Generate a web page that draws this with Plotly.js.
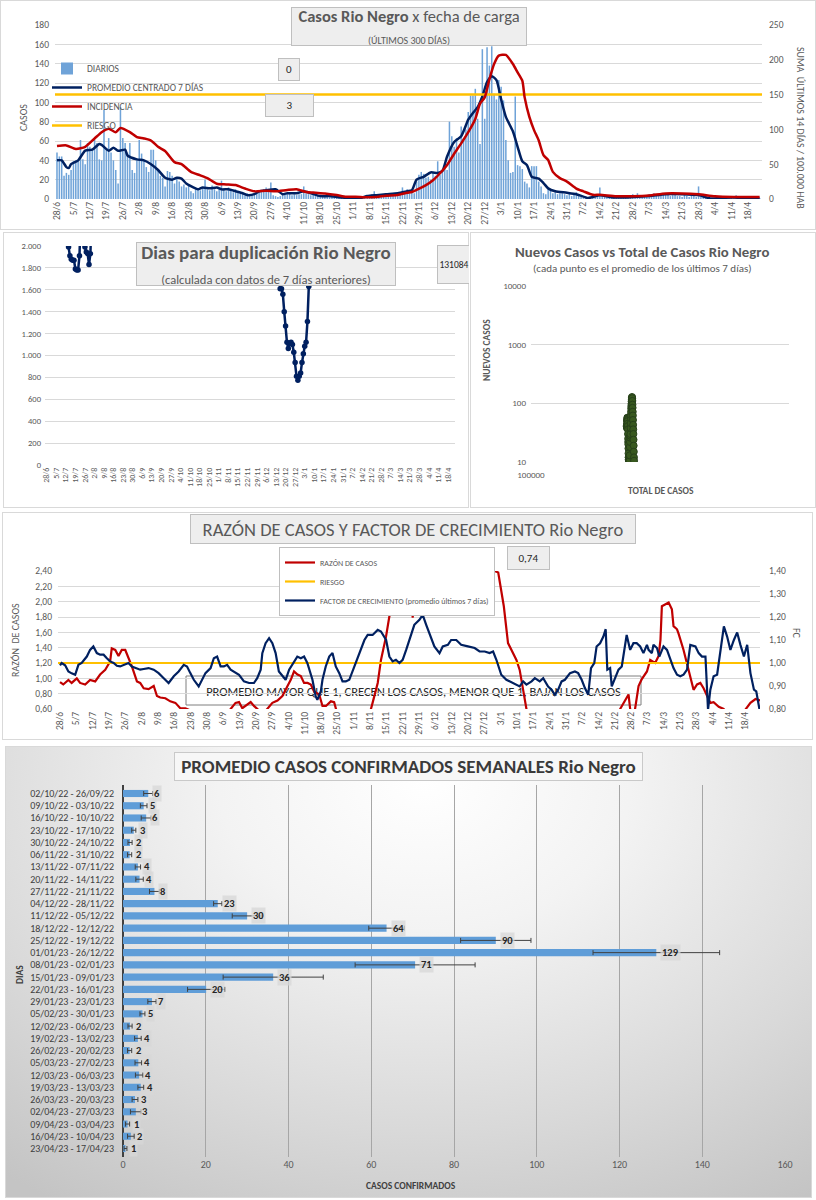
<!DOCTYPE html>
<html><head><meta charset="utf-8">
<script src="https://cdn.plot.ly/plotly-3.0.1.min.js"></script>
<style>
body{margin:0;width:816px;height:1200px;background:#fff;position:relative;overflow:hidden;font-family:Lato,sans-serif}
.p{position:absolute;overflow:hidden;background:#fff;outline:1px solid #d9d9d9;outline-offset:-1px}
</style></head><body>
<div id="c1" class="p" style="left:0;top:0;width:816px;height:230px"></div>
<div id="c2" class="p" style="left:3px;top:232px;width:466px;height:276px"></div>
<div id="c3" class="p" style="left:470px;top:232px;width:346px;height:276px"></div>
<div id="c4" class="p" style="left:2px;top:512px;width:811px;height:228px"></div>
<div id="c5" class="p" style="left:5px;top:746px;width:807px;height:452px;background:radial-gradient(ellipse 85% 110% at 52% 8%, #ffffff 0%, #f3f3f3 30%, #d9d9d9 70%, #c4c4c4 100%)"></div>
<script>
// ---------- shared tick labels (one every 7 days from 28/6/2022) ----------
const TICK_LABELS = ['28/6','5/7','12/7','19/7','26/7','2/8','9/8','16/8','23/8','30/8','6/9','13/9','20/9','27/9','4/10','11/10','18/10','25/10','1/11','8/11','15/11','22/11','29/11','6/12','13/12','20/12','27/12','3/1','10/1','17/1','24/1','31/1','7/2','14/2','21/2','28/2','7/3','14/3','21/3','28/3','4/4','11/4','18/4'];
const TICK_DAYS = TICK_LABELS.map((_, i) => i * 7);

// ---------- chart 1: daily cases, 7-day centred average, incidence ----------
const DAILY = [
 48,44,44,24,27,25,30, 39,40,40,61,41,36,58, 54,52,61,58,41,40,92, 52,63,48,40,30,16,95,
 63,58,48,58,30,27,40, 61,47,40,33,28,51,51, 40,30,24,22,13,29,28, 24,16,21,18,13,15,12,
 14,8,6,12,10,9,12, 20,10,9,14,10,8,11, 19,11,8,12,9,7,10, 8,6,5,4,6,3,5,
 6,8,9,7,10,12,
 9,17,4,3,2,3,4, 6,5,6,4,5,4,5, 5,13,6,5,4,5,4, 3,4,2,3,3,2,4, 2,1,2,3,1,2,3,
 1,2,1,3,2,2,3, 3,4,5,8,3,2,3, 4,6,3,4,3,5,3, 5,12,8,10,6,9,6, 18,25,28,26,22,23,20,
 28,24,39,25,30,34,30, 80,65,54,63,48,75,63, 72,90,107,107,114,83,57, 155,83,157,138,158,109,103,
 123,116,102,61,40,27,28, 106,35,34,31,18,16,12, 34,34,34,18,13,6,5, 10,9,6,7,5,6,6,
 5,4,6,3,5,7,5, 2,1,3,2,2,1,3, 4,12,3,2,2,3,2, 2,1,3,2,2,1,3, 3,5,4,6,3,4,3,
 4,5,3,6,4,3,3, 5,4,6,3,4,5,3, 3,2,4,3,2,4,3, 2,13,2,2,1,1,1, 1,0,2,1,1,2,0,
 2,3,1,4,2,1,2, 1,2,0,1,1,2,1];
const DAYS = DAILY.map((_, i) => i);
const AVG7_DAYS = [0,2,4,5,6,9,12,15,18,19,22,24,26,29,30,34,37,40,43,46,49,51,53,55,58,60,62,65,68,70,73,76,79,81,84,86,89,93,96,98,102,105,108,112,116,119,125,129,132,136,140,145,149,151,153,156,159,162,164,166,169,172,175,177,179,181,183,185,187,189,191,194,196,198,200,202,205,207,209,212,217,221,226,231,237,245,252,259,266,273,278,282,288,295,299];
const AVG7 = [40,40,33,32,36,40,50,51,57,56,50,53,50,51,45,41,40,36,30,22,20,22,21,16,12,10,12,11,12,10,10,8,6,4,5,8,9,10,5,6,6,8,6,3,3,2,1,1,3,4,5,6,8,9,20,23,27.5,27,29,44,59,65,82,89,95,106,121,127,123,103,85,70,54,39,35,23,21,16.5,11,8,6.5,5,1,4,1.5,2,3,5,5,4,0.5,1,1.5,0.5,0.5];
const INC_DAYS = [0,4,8,12,16,19,22,25,27,31,34,37,40,43,46,50,53,57,61,64,68,72,76,80,84,89,93,98,102,106,110,114,119,123,127,132,136,140,145,149,151,153,157,160,163,166,169,172,175,178,180,182,184,186,188,191,194,196,198,199,201,203,205,207,209,211,214,217,221,224,228,231,238,245,252,259,266,273,280,288,299];
const INC = [76,77,72,75,87,96,101,96,102,96,89,87,84,75,69,53,50,39,34,30,22,21,20,15,11,12,11,13,14,10,9,8,5.7,3.3,3.3,2.4,3,4.8,5.7,9,10,13,20,27,37,49,65,80,96,115,137,146,172,194,206,207,194,182,170,146,118,99,84,63,56,39,30,25,15,11,6,6,4,4,5,8,8,6.7,4,3,3];
const RIESGO_INC = 150;

// ---------- chart 2: doubling days ----------
const DUP_DAYS = [15,16,17,18,19,20,21,22,23,24,25,26,27,28,29,30,31,32,33,34,170,171,172,173,174,175,176,177,178,179,180,181,182,183,184,185,186,187,188,189,190,191,192,193];
const DUP_VALUES = [2300,1990,1910,1880,1870,1870,1790,1780,1780,1910,2300,null,2300,1990,1945,1930,1830,1930,2300,null,2300,1610,1610,1560,1400,1270,1120,1065,1110,1120,1100,1030,935,810,775,810,840,935,1015,1085,1120,1310,1630,2300];
const DUP_TICKS = [0,200,400,600,800,1000,1200,1400,1600,1800,2000];
const DUP_TICK_TEXT = ['0','200','400','600','800','1.000','1.200','1.400','1.600','1.800','2.000'];

// ---------- chart 3: new vs total ----------
const NC_TOTAL = [235000,235200,235400,235600,235800,236000,236200,236400,236600,236800,237000,237200,237400,237600,237800,238000,238200,238400,238600,238800,239000,239200,239400,239600,239800,240000,
 241000,241300,241600,241900,242200,242500,242800,243100,243400,243700,244000,244300,244600,244900,245200,245500,245800,246100,246400,246700,247000,247300,247600,247900,248200,248500,248800,249100,249400,249700,250000,250300,250600,250900];
const NC_NEW = [40,42,38,45,50,52,57,55,50,53,50,45,41,36,30,25,22,20,17,14,12,11,12,10.5,11,10.3,
 10.5,13,18,22,26,28,30,38,46,56,63,72,82,90,98,108,118,125,128,122,110,95,84,72,62,52,43,36,30,24,19,15,12,10.5];
const NC_YTICKS = [10,100,1000,10000];
const NC_XTICKS = [100000];

// ---------- chart 4: ratio & growth factor ----------
const RAZON_DAYS = [0,1.4,3.6,5,7.2,8.6,10.8,12.9,15.1,17.2,19.4,21.5,22.2,23.7,25.1,26.5,28,29.4,30.8,33,34.4,35.9,38,40.2,41.6,43,45.2,47.3,49.5,51.6,53.8,56,60,70,73.2,75.3,76.8,78.2,80.3,81.8,83.2,85.4,87.5,89,91.1,93.3,95.4,97.6,99,100.4,101.9,103.3,104.7,106.2,107.6,109,111.2,112.6,114.1,116.2,117.6,118.4,120,132,133.4,134.1,136.3,137.7,139.9,141.3,143.5,144.9,145.6,147,149.5,150.3,151.3,152.3,153.5,185,186.5,188,190.4,192.2,193.6,195.8,197.2,198.7,200.1,201.5,238.5,240.3,241.7,243.2,243.9,244.6,245.3,246.7,248.2,249.6,251.8,253.2,255.3,256.8,257.6,258.2,259.6,261.1,262.5,263.2,264.7,265.4,267.5,269.7,271.8,273.3,274.7,276.1,277.6,279,280.4,282.6,284.7,286,293,294.1,296.2,298.4,300.5];
const RAZON = [0.95,0.92,0.98,0.94,1.0,0.94,0.92,0.98,0.96,1.05,1.11,1.22,1.39,1.37,1.29,1.37,1.37,1.26,1.16,0.96,0.94,0.87,0.86,0.90,0.77,0.75,0.74,0.70,0.68,0.61,0.61,0.58,0.5,0.5,0.60,0.68,0.69,0.61,0.66,0.69,0.64,0.58,0.55,0.60,0.68,0.71,0.77,0.90,0.98,1.09,1.05,1.03,0.94,0.94,0.92,0.83,0.79,0.64,0.64,0.70,0.69,0.60,0.5,0.5,0.60,0.68,0.94,1.24,1.55,1.81,1.94,2.15,2.40,2.7,2.7,2.40,1.79,2.40,2.7,2.7,2.40,2.38,1.94,1.46,1.37,1.24,1.11,0.85,0.60,0.5,0.5,0.60,0.68,0.75,0.79,0.60,0.5,0.60,0.90,0.99,1.09,1.24,1.20,1.29,1.5,1.94,1.96,1.99,1.90,1.68,1.64,1.58,1.37,1.11,0.85,0.92,0.94,0.87,0.76,0.68,0.69,0.63,0.60,0.55,0.55,0.60,0.68,0.73,0.71];
const FC_DAYS = [0,0.7,2.2,3.6,5,6.5,7.9,9.3,11.5,12.9,14.3,15.8,17.2,18.7,20.1,21.5,23,24.4,25.8,27.3,29.4,30.8,32.3,34.4,35.9,38,40.2,42.3,44.5,46.6,48.8,50.9,53.1,54.5,55.9,57.4,59.5,60.9,62.4,64.6,66,67.4,68.9,70.3,71.7,73.2,74.6,76.8,78.9,81.1,83.2,84.6,86.1,86.8,88.2,89.7,91.1,92.5,93.9,95.4,96.8,98.3,99.7,101.8,103.3,104.7,106.1,108.3,109.7,110.4,111.9,112.6,114,115.5,116.9,118.3,119.8,121.2,122.6,124.1,126.3,128.4,130.6,132,134.1,136.3,137.7,139.9,141.3,142.7,144.1,145.6,147,148.5,149.9,152,154.2,155.6,157.1,158.5,160.6,162.8,164.2,166.4,167.8,170,172.1,175,177.9,180,182.2,184.3,185.8,187.2,189.3,191.5,194.4,197.2,198.7,200.1,202.3,203.7,205.8,207.3,209.4,210.9,212.3,213.7,215.2,216.6,218.8,220.9,222.3,223.8,225.2,226.6,227.8,229.2,230.2,231.7,233.1,234.1,234.8,236,236.7,238.1,239.6,241,241.7,243.1,244.6,246,247.4,248.9,250.3,251.8,252.5,253.9,254.6,256.1,257.1,258.9,260.4,261.8,263.2,264.7,266.1,267.5,269,270.4,272.6,274,275.4,276.9,278,279,280.4,281.9,283.3,284.8,286.2,287.6,289.1,290.5,291.9,293.4,294.8,296.2,297.7,298.7,300.1];
const FC = [0.99,1.0,0.99,0.963,0.955,0.949,0.992,1.0,1.028,1.057,1.072,1.043,1.036,1.036,1.021,1.007,1.0,0.988,0.985,0.992,1.0,0.985,0.978,0.971,0.974,0.978,0.971,0.956,0.934,0.913,0.942,0.963,0.992,0.985,0.956,0.927,0.898,0.927,0.956,0.978,1.021,1.028,0.985,0.985,0.992,0.971,0.963,0.949,0.92,0.913,0.913,0.934,0.971,1.043,1.086,1.108,1.086,1.043,0.963,0.942,0.927,0.971,0.992,1.028,1.021,1.028,1.0,0.927,0.855,0.84,0.877,0.927,0.985,1.028,1.043,0.985,0.956,0.92,0.92,0.927,0.985,1.043,1.10,1.122,1.122,1.144,1.137,1.10,1.028,1.007,1.014,1.0,1.014,1.057,1.10,1.166,1.188,1.209,1.166,1.13,1.072,1.043,1.072,1.079,1.10,1.10,1.079,1.072,1.065,1.05,1.05,1.043,1.05,1.014,0.949,0.927,0.913,0.898,0.92,0.906,0.92,0.934,0.92,0.934,0.898,0.884,0.862,0.884,0.92,0.927,0.956,0.963,0.956,0.927,0.891,0.862,0.978,1.0,1.072,1.086,1.115,1.147,0.971,0.978,0.898,0.934,0.971,0.985,1.036,1.122,1.057,1.086,1.086,1.072,1.043,1.079,1.057,1.043,1.079,1.065,1.028,1.072,1.057,1.021,0.978,0.949,0.942,0.949,0.971,1.079,1.072,1.043,1.028,1.028,0.797,0.884,0.942,0.949,1.043,1.159,1.115,1.057,1.10,1.133,1.079,1.028,1.079,0.956,0.884,0.877,0.797];
const RIESGO_FC = 1.0;

// ---------- chart 5: weekly averages ----------
const WEEKS = ['02/10/22 - 26/09/22','09/10/22 - 03/10/22','16/10/22 - 10/10/22','23/10/22 - 17/10/22','30/10/22 - 24/10/22','06/11/22 - 31/10/22','13/11/22 - 07/11/22','20/11/22 - 14/11/22','27/11/22 - 21/11/22','04/12/22 - 28/11/22','11/12/22 - 05/12/22','18/12/22 - 12/12/22','25/12/22 - 19/12/22','01/01/23 - 26/12/22','08/01/23 - 02/01/23','15/01/23 - 09/01/23','22/01/23 - 16/01/23','29/01/23 - 23/01/23','05/02/23 - 30/01/23','12/02/23 - 06/02/23','19/02/23 - 13/02/23','26/02/23 - 20/02/23','05/03/23 - 27/02/23','12/03/23 - 06/03/23','19/03/23 - 13/03/23','26/03/23 - 20/03/23','02/04/23 - 27/03/23','09/04/23 - 03/04/23','16/04/23 - 10/04/23','23/04/23 - 17/04/23'];
const WEEK_AVG = [6.1,5.0,5.6,2.6,1.7,1.6,3.6,4.0,7.6,22.9,30.0,63.7,90.1,128.9,70.6,36.3,20.1,7.0,4.7,1.7,3.6,1.6,3.7,3.9,4.3,2.9,3.1,1.1,1.9,0.6];
const WEEK_ERR = [1.1,0.8,1.2,0.5,0.5,0.5,0.65,0.9,1.2,1.0,3.6,4.3,8.5,15.3,14.5,12.1,4.5,1.0,0.6,0.5,0.8,0.5,0.8,0.9,0.7,0.7,1.3,0.5,0.8,0.35];
const WEEK_LABELS = ['6','5','6','3','2','2','4','4','8','23','30','64','90','129','71','36','20','7','5','2','4','2','4','4','4','3','3','1','2','1'];

// ---------- helpers ----------
const FONT = 'Carlito, Lato, sans-serif';
const GREY = '#595959';
const CFG = {staticPlot: true, displayModeBar: false};
function paperOf(W, H, m) {
  const pw = W - m.l - m.r, ph = H - m.t - m.b;
  return {x: px => (px - m.l) / pw, y: py => 1 - (py - m.t) / ph};
}
function box(P, cx, cy, w, h, text, size, opts) {
  return Object.assign({xref: 'paper', yref: 'paper', x: P.x(cx), y: P.y(cy), xanchor: 'center', yanchor: 'middle',
    text: text, showarrow: false, width: w, height: h, bgcolor: '#eeeeee', bordercolor: '#bfbfbf', borderwidth: 1, borderpad: 0,
    font: {family: FONT, size: size, color: GREY}}, opts || {});
}
function label(P, cx, cy, text, size, opts) {
  return Object.assign({xref: 'paper', yref: 'paper', x: P.x(cx), y: P.y(cy), xanchor: 'center', yanchor: 'middle',
    text: text, showarrow: false, font: {family: FONT, size: size, color: GREY}}, opts || {});
}
const xDays = (range, size) => ({range: range, tickvals: TICK_DAYS, ticktext: TICK_LABELS, tickangle: -90,
  tickfont: {family: FONT, size: size, color: GREY}, showgrid: false, zeroline: false, showline: false, ticks: ''});

// ================= CHART 1 =================
(function () {
  const W = 816, H = 230, m = {l: 55, r: 54, t: 25, b: 31};
  const P = paperOf(W, H, m);
  const span = [DAYS[0] - 5, DAYS[DAYS.length - 1] + 5];
  const traces = [
    {type: 'bar', x: DAYS, y: DAILY, name: 'DIARIOS', marker: {color: '#6fa3d8'}, legendrank: 1, legendgroup: 'a'},
    {type: 'scatter', mode: 'lines', x: span, y: [RIESGO_INC, RIESGO_INC], yaxis: 'y2', name: 'RIESGO', line: {color: '#ffc000', width: 2.5}, legendrank: 4, legendgroup: 'd'},
    {type: 'scatter', mode: 'lines', x: AVG7_DAYS, y: AVG7, name: 'PROMEDIO CENTRADO 7 DÍAS', line: {color: '#002060', width: 2.5, shape: 'spline', smoothing: 0.6}, legendrank: 2, legendgroup: 'b'},
    {type: 'scatter', mode: 'lines', x: INC_DAYS, y: INC, yaxis: 'y2', name: 'INCIDENCIA', line: {color: '#c00000', width: 2.5, shape: 'spline', smoothing: 0.6}, legendrank: 3, legendgroup: 'c'}
  ];
  const layout = {
    width: W, height: H, margin: m, paper_bgcolor: 'rgba(0,0,0,0)', plot_bgcolor: 'rgba(0,0,0,0)',
    font: {family: FONT, color: GREY}, bargap: 0.35, showlegend: true,
    legend: {x: P.x(47), y: P.y(54), xanchor: 'left', yanchor: 'top', bgcolor: 'rgba(0,0,0,0)', tracegroupgap: 0,
      font: {family: FONT, size: 9.5, color: GREY}, itemwidth: 30},
    xaxis: xDays([-0.85, 300], 9.5),
    yaxis: {range: [0, 180], dtick: 20, gridcolor: '#d9d9d9', zeroline: false, tickfont: {family: FONT, size: 9.5, color: GREY}, ticklabelstandoff: 5},
    yaxis2: {range: [0, 250], dtick: 50, overlaying: 'y', side: 'right', showgrid: false, zeroline: false, tickfont: {family: FONT, size: 9.5, color: GREY}, ticklabelstandoff: 6},
    annotations: [
      box(P, 408.5, 27, 234, 37, '<b>Casos Rio Negro</b> x fecha de carga<br><span style="font-size:10px">(ÚLTIMOS 300 DÍAS)</span>', 16.5),
      box(P, 288.5, 69, 20, 21, '0', 11, {font: {family: FONT, size: 11, color: '#262626'}}),
      box(P, 289, 105, 47, 21, '3', 11, {font: {family: FONT, size: 11, color: '#262626'}}),
      label(P, 24, 118, 'CASOS', 10, {textangle: -90}),
      label(P, 801, 128, 'SUMA  ÚLTIMOS 14 DÍAS / 100.000 HAB', 10, {textangle: 90})
    ]
  };
  Plotly.newPlot('c1', traces, layout, CFG);
})();

// ================= CHART 2 =================
(function () {
  const W = 466, H = 276, m = {l: 42, r: 14, t: 14, b: 43};
  const P = paperOf(W, H, m);
  const traces = [{type: 'scatter', mode: 'lines+markers', x: DUP_DAYS, y: DUP_VALUES, connectgaps: false,
    line: {color: '#002060', width: 2.5}, marker: {color: '#002060', size: 5.5}, showlegend: false}];
  const layout = {
    width: W, height: H, margin: m, paper_bgcolor: 'rgba(0,0,0,0)', plot_bgcolor: 'rgba(0,0,0,0)', font: {family: FONT, color: GREY},
    xaxis: xDays([-1.25, 299.1], 8),
    yaxis: {range: [0, 2000], tickvals: DUP_TICKS, ticktext: DUP_TICK_TEXT, gridcolor: '#d9d9d9', zeroline: false,
      tickfont: {family: FONT, size: 8.5, color: GREY}, ticklabelstandoff: 3},
    annotations: [
      box(P, 263, 32.5, 258, 42, '<b>Dias para duplicación Rio Negro</b><br><span style="font-size:12.5px">(calculada con datos de 7 días anteriores)</span>', 19),
      box(P, 451, 32, 32, 37, '131084', 9.5, {font: {family: FONT, size: 9.5, color: '#262626'}})
    ]
  };
  Plotly.newPlot('c2', traces, layout, CFG);
})();

// ================= CHART 3 =================
(function () {
  const W = 346, H = 276, m = {l: 61, r: 27, t: 54, b: 46};
  const P = paperOf(W, H, m);
  const ox = 470, oy = 232;
  const traces = [{type: 'scatter', mode: 'markers', x: NC_TOTAL, y: NC_NEW, showlegend: false,
    marker: {color: '#38581f', size: 7, line: {color: '#27401a', width: 1}}}];
  const layout = {
    width: W, height: H, margin: m, paper_bgcolor: 'rgba(0,0,0,0)', plot_bgcolor: 'rgba(0,0,0,0)', font: {family: FONT, color: GREY},
    xaxis: {type: 'log', range: [5, 6], tickvals: NC_XTICKS, ticktext: NC_XTICKS.map(String), showgrid: false, zeroline: false,
      tickfont: {family: FONT, size: 9, color: GREY}, ticks: '', ticklabelstandoff: 6},
    yaxis: {type: 'log', range: [1, 4], tickvals: NC_YTICKS, ticktext: NC_YTICKS.map(String), gridcolor: '#d9d9d9', zeroline: false,
      tickfont: {family: FONT, size: 9, color: GREY}, ticklabelstandoff: 4},
    annotations: [
      label(P, 642 - ox, 252 - oy, '<b>Nuevos Casos vs Total de Casos Rio Negro</b>', 14.8),
      label(P, 642 - ox, 268 - oy, '(cada punto es el promedio de los últimos 7 días)', 11),
      label(P, 487 - ox, 350 - oy, '<b>NUEVOS CASOS</b>', 9.5, {textangle: -90}),
      label(P, 661 - ox, 491 - oy, '<b>TOTAL DE CASOS</b>', 9.5)
    ]
  };
  Plotly.newPlot('c3', traces, layout, CFG);
})();

// ================= CHART 4 =================
(function () {
  const W = 811, H = 228, m = {l: 56, r: 53, t: 59, b: 31};
  const P = paperOf(W, H, m);
  const oy = 512, ox = 2;
  const span = [FC_DAYS[0] - 5, FC_DAYS[FC_DAYS.length - 1] + 5];
  const traces = [
    {type: 'scatter', mode: 'lines', x: RAZON_DAYS, y: RAZON, name: 'RAZÓN DE CASOS', line: {color: '#c00000', width: 2.2}},
    {type: 'scatter', mode: 'lines', x: span, y: [RIESGO_FC, RIESGO_FC], yaxis: 'y2', name: 'RIESGO', line: {color: '#ffc000', width: 2.2}},
    {type: 'scatter', mode: 'lines', x: FC_DAYS, y: FC, yaxis: 'y2', name: 'FACTOR DE CRECIMIENTO (promedio últimos 7 días)', line: {color: '#002060', width: 2.2}}
  ];
  const layout = {
    width: W, height: H, margin: m, paper_bgcolor: 'rgba(0,0,0,0)', plot_bgcolor: 'rgba(0,0,0,0)', font: {family: FONT, color: GREY},
    separators: ',.', showlegend: true,
    legend: {x: P.x(279 - ox), y: P.y(547 - oy), xanchor: 'left', yanchor: 'top', bgcolor: '#ffffff', bordercolor: '#bfbfbf', borderwidth: 1,
      font: {family: FONT, size: 8, color: GREY}, tracegroupgap: 0, itemwidth: 30},
    xaxis: xDays([-0.86, 300.3], 9.5),
    yaxis: {range: [0.6, 2.4], dtick: 0.2, tickformat: '.2f', gridcolor: '#d9d9d9', zeroline: false,
      tickfont: {family: FONT, size: 9.5, color: GREY}, ticklabelstandoff: 5},
    yaxis2: {range: [0.8, 1.4], dtick: 0.1, tickformat: '.2f', overlaying: 'y', side: 'right', showgrid: false, zeroline: false,
      tickfont: {family: FONT, size: 9.5, color: GREY}, ticklabelstandoff: 8},
    shapes: [{type: 'rect', xref: 'paper', yref: 'paper', layer: 'between', x0: P.x(186 - ox), x1: P.x(641 - ox), y0: P.y(705 - oy), y1: P.y(676 - oy),
      line: {color: '#7f7f7f', width: 1}, fillcolor: 'rgba(0,0,0,0)',
      label: {text: 'PROMEDIO MAYOR QUE 1, CRECEN LOS CASOS, MENOR QUE 1, BAJAN LOS CASOS', textposition: 'middle center',
        font: {family: FONT, size: 12.5, color: '#262626'}}}],
    annotations: [
      box(P, 413 - ox, 529 - oy, 444, 28, 'RAZÓN DE CASOS Y FACTOR DE CRECIMIENTO Rio Negro', 18.5),
      box(P, 528.5 - ox, 558 - oy, 41, 22, '0,74', 11, {font: {family: FONT, size: 11, color: '#262626'}}),
      label(P, 15 - ox, 640 - oy, 'RAZÓN  DE CASOS', 10, {textangle: -90}),
      label(P, 797 - ox, 633 - oy, 'FC', 10, {textangle: 90})
    ]
  };
  Plotly.newPlot('c4', traces, layout, CFG);
})();

// ================= CHART 5 =================
(function () {
  const W = 807, H = 452, m = {l: 118, r: 27, t: 39, b: 41};
  const P = paperOf(W, H, m);
  const ox = 5, oy = 746;
  const traces = [{type: 'bar', orientation: 'h', y: WEEKS, x: WEEK_AVG, showlegend: false,
    marker: {color: '#5f9dd8'},
    error_x: {type: 'data', array: WEEK_ERR, visible: true, color: '#404040', thickness: 1, width: 2.5}}];
  const labels = WEEKS.map((w, i) => ({x: WEEK_AVG[i], y: w, xref: 'x', yref: 'y', xanchor: 'left', yanchor: 'middle',
    xshift: 4, text: '<b>' + WEEK_LABELS[i] + '</b>', showarrow: false, bgcolor: 'rgba(215,215,215,0.75)', borderpad: 1,
    font: {family: FONT, size: 10.5, color: '#262626'}}));
  const layout = {
    width: W, height: H, margin: m, paper_bgcolor: 'rgba(0,0,0,0)', plot_bgcolor: 'rgba(0,0,0,0)', font: {family: FONT, color: GREY},
    bargap: 0.42,
    xaxis: {range: [0, 160], dtick: 20, gridcolor: '#a6a6a6', gridwidth: 1, zeroline: true, zerolinecolor: '#404040', zerolinewidth: 1.5,
      tickfont: {family: FONT, size: 10, color: GREY}, ticks: ''},
    yaxis: {type: 'category', autorange: 'reversed', tickmode: 'array', tickvals: WEEKS, ticktext: WEEKS,
      tickfont: {family: FONT, size: 10, color: '#404040'}, ticklabelstandoff: 8, showgrid: false},
    annotations: labels.concat([
      box(P, 408.5 - ox, 766.5 - oy, 467, 27, '<b>PROMEDIO CASOS CONFIRMADOS SEMANALES Rio Negro</b>', 19,
        {bgcolor: '#f7f7f7', bordercolor: '#c9c9c9', font: {family: FONT, size: 19, color: '#3a3a3a'}}),
      label(P, 20 - ox, 975 - oy, '<b>DIAS</b>', 9.5, {textangle: -90, font: {family: FONT, size: 9.5, color: '#404040'}}),
      label(P, 411 - ox, 1186 - oy, '<b>CASOS CONFIRMADOS</b>', 9.5, {font: {family: FONT, size: 9.5, color: '#404040'}})
    ])
  };
  Plotly.newPlot('c5', traces, layout, CFG);
})();
</script>
</body></html>
